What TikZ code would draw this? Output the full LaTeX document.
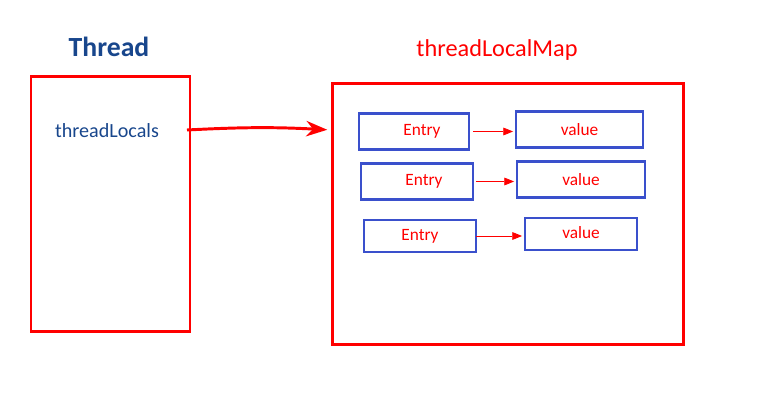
\documentclass[tikz,border=0pt]{standalone}
\usepackage{fontspec}
\setmainfont{Carlito}
\usepackage{tikz}
\usetikzlibrary{arrows.meta, positioning}
\definecolor{mapred}{RGB}{255,0,0}
\definecolor{entryblue}{RGB}{58,80,204}
\definecolor{titleblue}{RGB}{24,70,140}

\begin{document}
\begin{tikzpicture}[
        x=0.025cm, y=-0.025cm,
        >=Stealth,
        redbox/.style={draw=mapred, line width=2.1pt, inner sep=0pt},
        bluebox/.style={draw=entryblue, line width=2.1pt, inner sep=0pt, minimum height=0.92cm, text=mapred, font=\fontsize{12.3}{14}\selectfont},
        link/.style={-{Triangle[length=7pt, width=5.5pt]}, mapred, line width=0.6pt},
        every node/.style={inner sep=2pt}
    ]
    \useasboundingbox (0,0) rectangle (764,406);

    % --- Thread side ---
    \node[font=\fontsize{19.7}{22}\selectfont\bfseries, text=titleblue] (threadtitle) at (109,47) {Thread};
    \node[redbox, minimum width=3.975cm, minimum height=6.35cm] (thread) at (110.5,204) {};
    \node[font=\fontsize{14.3}{16}\selectfont, text=titleblue] (locals) at (107,131) {threadLocals};
    \coordinate (start) at (187,130);

    % --- Map side ---
    \node[font=\LARGE, text=mapred] (maptitle) at (497,50) {threadLocalMap};
    \node[redbox, minimum width=8.75cm, minimum height=6.5cm] (map) at (508,214) {};

    % Entry boxes
    \node[bluebox, minimum width=2.75cm] (entryA) at (414,131.5) {\hspace{0.4cm}Entry};
    \node[bluebox, minimum width=2.8cm] (entryB) at (417,181.5) {\hspace{0.35cm}Entry};
    \node[bluebox, minimum width=2.8cm, minimum height=0.8cm] (entryC) at (420,236) {Entry};

    % value boxes
    \node[bluebox, minimum width=3.175cm] (valueA) at (579.5,129.5) {value};
    \node[bluebox, minimum width=3.2cm] (valueB) at (581,179.5) {value};
    \node[bluebox, minimum width=2.8cm, minimum height=0.8cm] (valueC) at (581,234) {\raisebox{2pt}{value}\hspace{0.2cm}};

    % --- Arrows ---
    \draw[-{Stealth[length=15pt, width=11pt]}, mapred, line width=2.1pt, shorten >=3pt] (start) to[bend left=3] (map.west |- start);
    \draw[link] ([xshift=2pt]entryA.east) -- ([xshift=-1pt]valueA.west |- entryA.east);
    \draw[link] ([xshift=1pt]entryB.east) -- ([xshift=-1pt]valueB.west |- entryB.east);
    \draw[link] ([xshift=-1pt]entryC.east) -- ([xshift=-1pt]valueC.west |- entryC.east);
    \end{tikzpicture}
\end{document}
